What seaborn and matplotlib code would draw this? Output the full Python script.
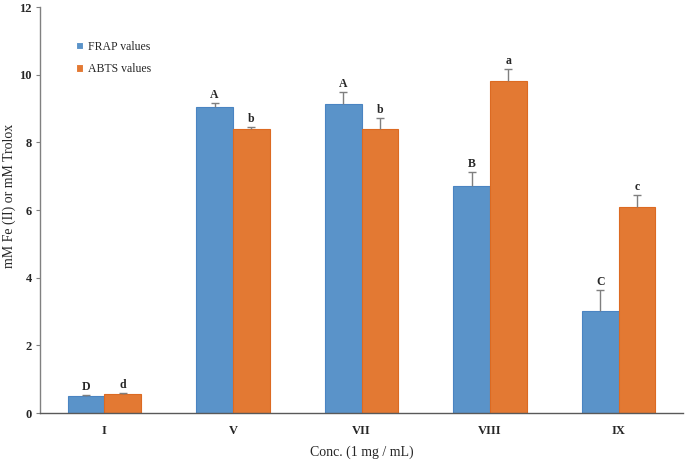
import numpy as np
import pandas as pd
import matplotlib
matplotlib.use("Agg")
import matplotlib.pyplot as plt
import seaborn as sns

# data
samples = ["I", "V", "VII", "VIII", "IX"]
frap_values = [0.51, 9.03, 9.14, 6.72, 3.02]
frap_err = [0.03, 0.13, 0.36, 0.39, 0.61]
abts_values = [0.55, 8.39, 8.39, 9.82, 6.10]
abts_err = [0.03, 0.07, 0.34, 0.34, 0.34]
frap_letters = ["D", "A", "A", "B", "C"]
abts_letters = ["d", "b", "b", "a", "c"]

df = pd.DataFrame({
    "sample": samples * 2,
    "value": frap_values + abts_values,
    "assay": ["FRAP values"] * len(samples) + ["ABTS values"] * len(samples),
})

sns.set_style("white")
plt.rcParams["font.family"] = ["Liberation Serif", "DejaVu Serif"]

fig = plt.figure(figsize=(6.86, 4.63), dpi=100)
ax = fig.add_axes([40 / 686, 50 / 463, 643 / 686, 406 / 463])

sns.barplot(data=df, x="sample", y="value", hue="assay",
            palette=["#5a93c9", "#e37933"], width=0.57, ax=ax,
            saturation=1, errorbar=None, linewidth=0.8)

edge_cols = ["#4a84c2", "#dc6a22"]
errs = [frap_err, abts_err]
letters = [frap_letters, abts_letters]
bar_groups = list(ax.containers)[:2]
for k, cont in enumerate(bar_groups):
    for i, bar in enumerate(cont.patches):
        bar.set_edgecolor(edge_cols[k])
        cx = bar.get_x() + bar.get_width() / 2
        h = bar.get_height()
        eb = ax.errorbar(cx, h, yerr=[[0], [errs[k][i]]], fmt="none",
                         ecolor="#7f7f7f", elinewidth=1.0, capsize=3,
                         capthick=1.0, zorder=3)
        for cap in eb[1]:
            if abs(cap.get_ydata()[0] - h) < 1e-9:
                cap.set_visible(False)
        ax.text(cx, h + errs[k][i] + 0.06, letters[k][i], ha="center",
                va="bottom", fontsize=8.5, fontweight="bold")

ax.set_xlim(-0.5, 4.5)
ax.set_ylim(0, 12)
ax.set_yticks(range(0, 13, 2))
ax.tick_params(axis="y", left=True, length=3, width=0.8, color="#808080",
               labelsize=9, pad=3)
ax.tick_params(axis="x", bottom=False, labelsize=9, pad=5)
for lab in ax.get_xticklabels() + ax.get_yticklabels():
    lab.set_fontweight("bold")

for s in ["top", "right"]:
    ax.spines[s].set_visible(False)
ax.spines["left"].set_color("#808080")
ax.spines["bottom"].set_color("#595959")
for s in ["left", "bottom"]:
    ax.spines[s].set_linewidth(1.0)

ax.set_xlabel("Conc. (1 mg / mL)", fontsize=10, labelpad=6)
ax.set_ylabel("mM Fe (II) or mM Trolox", fontsize=10)
ax.yaxis.set_label_coords(-0.037, 0.534)

leg = ax.legend(loc="upper left", bbox_to_anchor=(0.056, 0.916), frameon=False,
                fontsize=8.5, handlelength=0.55, handleheight=0.55,
                handletextpad=0.45, labelspacing=0.85, borderpad=0,
                borderaxespad=0)

fig.savefig("out.png", dpi=100)
